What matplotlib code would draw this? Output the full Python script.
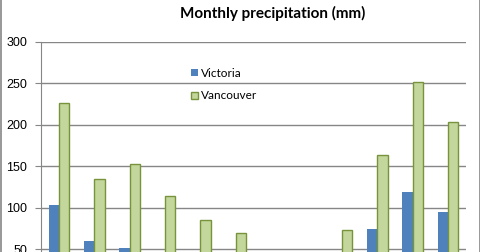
import numpy as np
import matplotlib
matplotlib.use('Agg')
import matplotlib.pyplot as plt
from matplotlib.lines import Line2D

# dane (mm)
months = ['Jan', 'Feb', 'Mar', 'Apr', 'May', 'Jun', 'Jul', 'Aug', 'Sep', 'Oct', 'Nov', 'Dec']
victoria = [103, 60, 52, 35, 28, 22, 15, 20, 30, 74, 119, 95]
vancouver = [226, 134, 152, 114, 85, 69, 40, 45, 73, 163, 251, 203]
yticks = [50, 100, 150, 200, 250, 300]

plt.rcParams['font.family'] = ['Lato', 'DejaVu Sans']

W, H = 481, 252
fig = plt.figure(figsize=(W / 100, H / 100), dpi=100)

# wykres jest przyciety od dolu - os zaczyna sie ponizej krawedzi
left, right = 41.3, 465.7
top, zero = 41.5, 290.8
ax = fig.add_axes([left / W, (H - zero) / H, (right - left) / W, (zero - top) / H])

x = np.arange(len(months))
bw = 0.29
b1 = ax.bar(x - bw / 2, victoria, bw, color='#4F81BD', label='Victoria', zorder=3)
b2 = ax.bar(x + bw / 2, vancouver, bw, color='#C3D69B', edgecolor='#77933C',
            linewidth=1, label='Vancouver', zorder=3)

ax.set_xlim(-0.5, len(months) - 0.5)
ax.set_ylim(0, 300)
ax.set_yticks(yticks)
ax.set_yticklabels([str(v) for v in yticks], fontsize=9, family='Liberation Sans')
ax.set_xticks([])
ax.grid(axis='y', color='#868686', linewidth=1, zorder=0)
for s in ['top', 'right', 'bottom']:
    ax.spines[s].set_visible(False)
ax.spines['left'].set_color('#868686')
ax.tick_params(axis='y', length=4, color='#868686', pad=6)

fig.text(273 / W, 1 - 13 / H, 'Monthly precipitation (mm)', ha='center', va='center',
         fontsize=11, fontweight='bold')

leg = ax.legend(handles=[b1, b2], loc='upper left', bbox_to_anchor=(180 / W, 1 - 57 / H),
                bbox_transform=fig.transFigure, frameon=False, fontsize=8.5,
                handlelength=0.6, handleheight=0.6, handletextpad=0.3, labelspacing=1.0)

# ramka obszaru wykresu
fig.add_artist(Line2D([1 / W, 1 / W], [0, 1], color='#868686', linewidth=1.2))
fig.add_artist(Line2D([480 / W, 480 / W], [0, 1], color='#868686', linewidth=1.2))

fig.savefig('out.png', dpi=100)
